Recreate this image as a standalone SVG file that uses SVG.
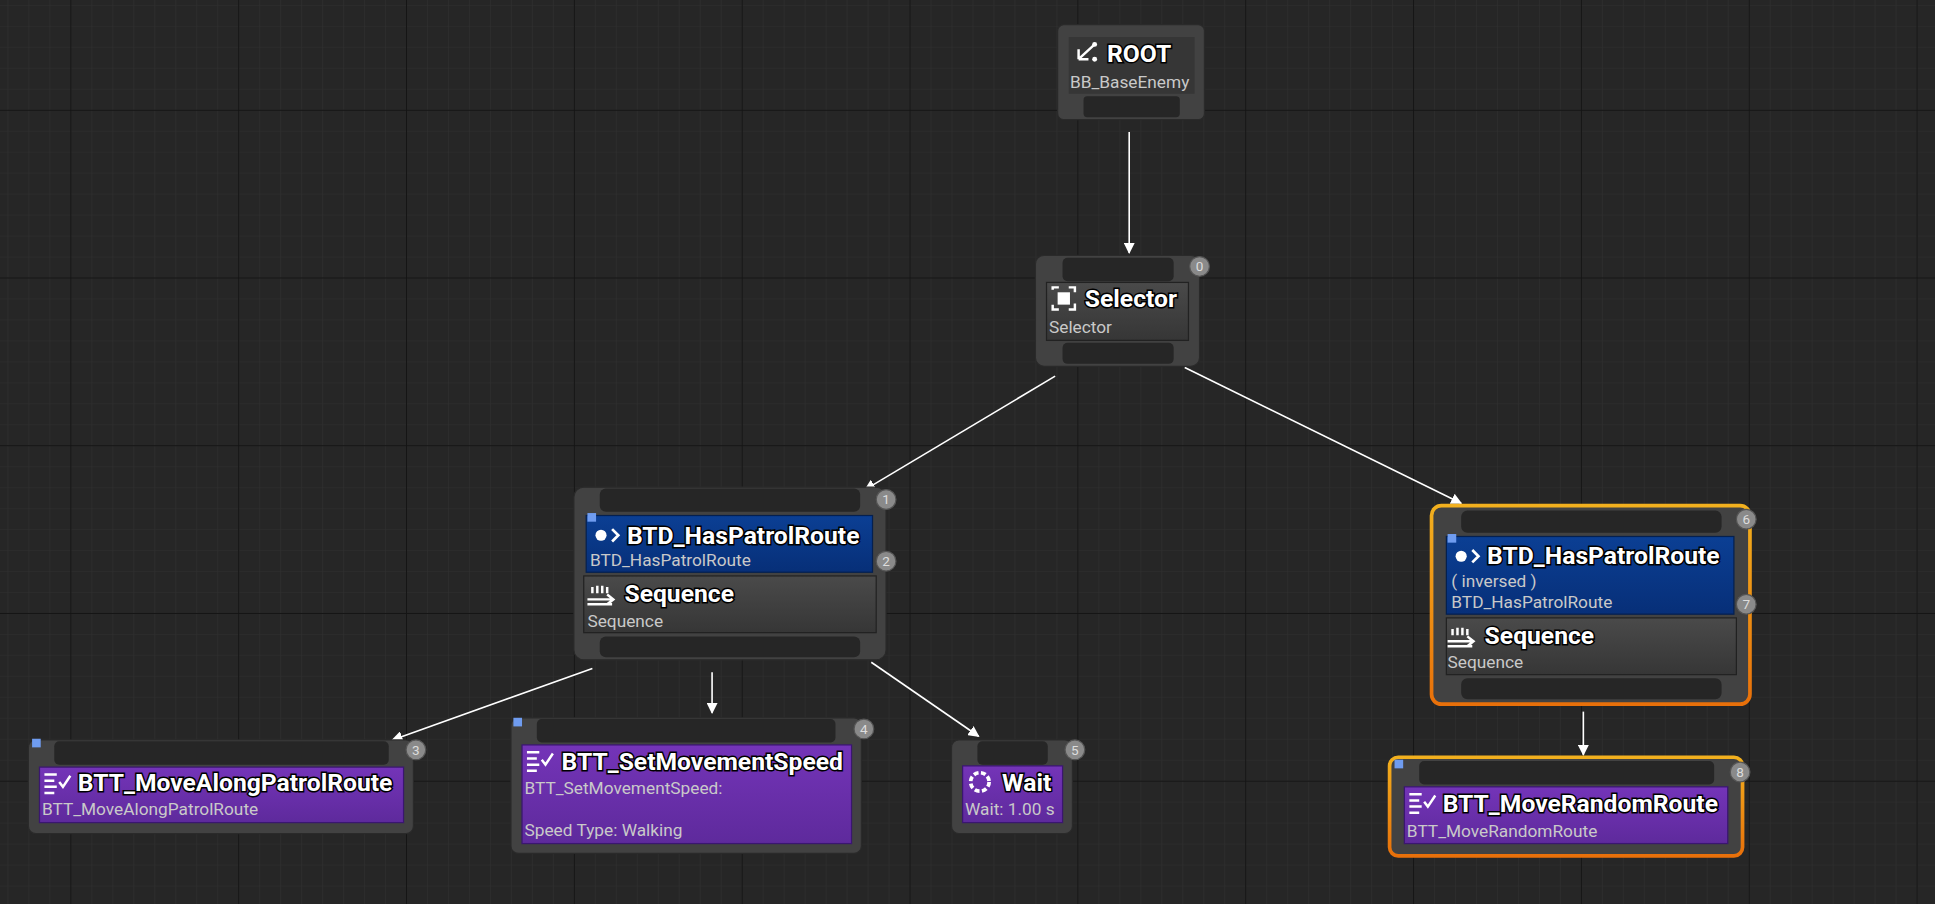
<svg xmlns="http://www.w3.org/2000/svg" width="1935" height="904" viewBox="0 0 1935 904">
<defs>
<pattern id="minor" x="-79" y="-47" width="17" height="17" patternUnits="userSpaceOnUse"><path d="M0 0H17M0 0V17" stroke="#2f2f2f" stroke-width="1" fill="none"/></pattern>
<pattern id="major" x="-79" y="-47" width="136" height="136" patternUnits="userSpaceOnUse"><path d="M0 0H136M0 0V136" stroke="#141414" stroke-width="1.6" fill="none"/></pattern>
<marker id="ah" viewBox="0 0 10 10" refX="9" refY="5" markerWidth="9" markerHeight="9" markerUnits="userSpaceOnUse" orient="auto"><path d="M0 0L10 5L0 10z" fill="#fff"/></marker>
<linearGradient id="og" x1="0" y1="0" x2="0" y2="1"><stop offset="0" stop-color="#f2b01e"/><stop offset="1" stop-color="#e8700a"/></linearGradient>
<linearGradient id="pg" x1="0" y1="0" x2="0" y2="1"><stop offset="0" stop-color="#7434b8"/><stop offset="1" stop-color="#5e2a9c"/></linearGradient>
<linearGradient id="bg" x1="0" y1="0" x2="0" y2="1"><stop offset="0" stop-color="#0b3f94"/><stop offset="1" stop-color="#072f78"/></linearGradient>
<linearGradient id="gg" x1="0" y1="0" x2="0" y2="1"><stop offset="0" stop-color="#4a4a4a"/><stop offset="1" stop-color="#363636"/></linearGradient>
</defs>
<style>
.outer{fill:#424242;stroke:#2a2a2a;stroke-width:1}
.bar{fill:#262626}
.gray{fill:url(#gg);stroke:#222;stroke-width:1}
.blue{fill:url(#bg);stroke:#05204f;stroke-width:1}
.purple{fill:url(#pg);stroke:#3a1670;stroke-width:1}
.t{font-family:Roboto,"Liberation Sans",sans-serif;font-weight:bold;font-size:20px;fill:#fff;paint-order:stroke;stroke:#000;stroke-width:2.4px}
.s{font-family:Roboto,"Liberation Sans",sans-serif;font-size:14px;fill:#c9c9c9}
.badge circle{fill:#8a8a8a;stroke:#555;stroke-width:1}
.badge text{font-family:Roboto,"Liberation Sans",sans-serif;font-size:11px;fill:#ddd;text-anchor:middle}
.conn{stroke:#fff;stroke-width:1.3;fill:none;marker-end:url(#ah)}
.sq{fill:#6f9cf0}
.ic{fill:#fff}
</style>
<rect width="1935" height="904" fill="#262626"/>
<g transform="scale(1.2341,1.2333)">
<rect width="1568" height="733" fill="url(#minor)"/>
<rect width="1568" height="733" fill="url(#major)"/>

<g id="connectors">
<path class="conn" d="M915 107V205"/>
<path class="conn" d="M855 305L701 397"/>
<path class="conn" d="M960 298L1184 408"/>
<path class="conn" d="M480 542L318 600"/>
<path class="conn" d="M577 545V578"/>
<path class="conn" d="M706 537L793 597"/>
<path class="conn" d="M1283 577V612"/>
</g>

<g id="root">
<rect class="outer" x="857" y="20" width="119" height="77" rx="5"/>
<rect x="866" y="30" width="102" height="46" fill="#363636"/>
<rect class="bar" x="878" y="78" width="78" height="17" rx="3"/>
<path d="M874 48L887 36M874 48V40M874 48H882" stroke="#fff" stroke-width="2" fill="none"/><circle class="ic" cx="887" cy="36" r="2"/><circle class="ic" cx="887" cy="48" r="2"/>
<text class="t" x="897" y="50">ROOT</text>
<text class="s" x="867" y="71">BB_BaseEnemy</text>
</g>

<g id="selector">
<rect class="outer" x="839" y="207" width="133" height="90" rx="7"/>
<rect class="bar" x="861" y="209" width="90" height="19" rx="4"/>
<rect class="gray" x="848" y="229" width="115" height="47"/>
<rect class="bar" x="861" y="278" width="90" height="17" rx="4"/>
<path d="M853 235V233H858M866 233H871V237M871 246V251H866M858 251H853V247" stroke="#fff" stroke-width="2" fill="none"/><rect class="ic" x="857" y="237" width="10" height="10"/>
<text class="t" x="879" y="249">Selector</text>
<text class="s" x="850" y="270">Selector</text>
<g class="badge"><circle cx="972" cy="216" r="8"/><text x="972" y="220">0</text></g>
</g>

<g id="seq-left">
<rect class="outer" x="465" y="395" width="253" height="140" rx="8"/>
<rect class="bar" x="486" y="396" width="211" height="19" rx="5"/>
<rect class="blue" x="475" y="418" width="232" height="46"/>
<rect class="sq" x="476" y="416" width="7" height="7"/>
<circle class="ic" cx="487" cy="434" r="4.5"/><path d="M496 429L501 434L496 439" stroke="#fff" stroke-width="2.2" fill="none"/>
<text class="t" x="508" y="441">BTD_HasPatrolRoute</text>
<text class="s" x="478" y="459">BTD_HasPatrolRoute</text>
<rect class="gray" x="473" y="467" width="237" height="46"/>
<path d="M480 476V481M484 475V481M488 475V481M492 476V481M476 486H496M492 482L497 486L492 490M476 490H496" stroke="#fff" stroke-width="2" fill="none"/>
<text class="t" x="506" y="488">Sequence</text>
<text class="s" x="476" y="508">Sequence</text>
<rect class="bar" x="486" y="516" width="211" height="17" rx="5"/>
<g class="badge"><circle cx="718" cy="405" r="8"/><text x="718" y="409">1</text></g>
<g class="badge"><circle cx="718" cy="455" r="8"/><text x="718" y="459">2</text></g>
</g>

<g id="move-along">
<rect class="outer" x="23" y="600" width="312" height="76" rx="6"/>
<rect class="bar" x="44" y="601" width="271" height="19" rx="4"/>
<rect class="purple" x="32" y="622" width="295" height="45"/>
<rect class="sq" x="26" y="599" width="7" height="7"/>
<path d="M36 628H46M36 633H44M36 638H46M36 643H44M48 634L51 638L57 629" stroke="#fff" stroke-width="2" fill="none"/>
<text class="t" x="63" y="641">BTT_MoveAlongPatrolRoute</text>
<text class="s" x="34" y="661">BTT_MoveAlongPatrolRoute</text>
<g class="badge"><circle cx="337" cy="608" r="8"/><text x="337" y="612">3</text></g>
</g>

<g id="set-speed">
<rect class="outer" x="414" y="582" width="284" height="110" rx="6"/>
<rect class="bar" x="435" y="583" width="242" height="19" rx="4"/>
<rect class="purple" x="423" y="604" width="267" height="80"/>
<rect class="sq" x="416" y="582" width="7" height="7"/>
<path d="M427 610H437M427 615H435M427 620H437M427 625H435M439 616L442 620L448 611" stroke="#fff" stroke-width="2" fill="none"/>
<text class="t" x="455" y="624">BTT_SetMovementSpeed</text>
<text class="s" x="425" y="644">BTT_SetMovementSpeed:</text>
<text class="s" x="425" y="678">Speed Type: Walking</text>
<g class="badge"><circle cx="700" cy="591" r="8"/><text x="700" y="595">4</text></g>
</g>

<g id="wait">
<rect class="outer" x="771" y="600" width="98" height="76" rx="6"/>
<rect class="bar" x="792" y="601" width="57" height="19" rx="4"/>
<rect class="purple" x="780" y="621" width="81" height="46"/>
<circle cx="794" cy="634" r="7.5" stroke="#fff" stroke-width="3" stroke-dasharray="4 2" fill="none"/>
<text class="t" x="812" y="641">Wait</text>
<text class="s" x="782" y="661">Wait: 1.00 s</text>
<g class="badge"><circle cx="871" cy="608" r="8"/><text x="871" y="612">5</text></g>
</g>

<g id="seq-right">
<rect x="1160" y="410" width="258" height="161" rx="8" fill="#424242" stroke="url(#og)" stroke-width="3"/>
<rect class="bar" x="1184" y="414" width="211" height="18" rx="5"/>
<rect class="blue" x="1172" y="435" width="233" height="63"/>
<rect class="sq" x="1173" y="433" width="7" height="7"/>
<circle class="ic" cx="1184" cy="451" r="4.5"/><path d="M1193 446L1198 451L1193 456" stroke="#fff" stroke-width="2.2" fill="none"/>
<text class="t" x="1205" y="457">BTD_HasPatrolRoute</text>
<text class="s" x="1176" y="476">( inversed )</text>
<text class="s" x="1176" y="493">BTD_HasPatrolRoute</text>
<rect class="gray" x="1172" y="501" width="235" height="46"/>
<path d="M1177 510V515M1181 509V515M1185 509V515M1189 510V515M1173 520H1193M1189 516L1194 520L1189 524M1173 524H1193" stroke="#fff" stroke-width="2" fill="none"/>
<text class="t" x="1203" y="522">Sequence</text>
<text class="s" x="1173" y="542">Sequence</text>
<rect class="bar" x="1184" y="550" width="211" height="17" rx="5"/>
<g class="badge"><circle cx="1415" cy="421" r="8"/><text x="1415" y="425">6</text></g>
<g class="badge"><circle cx="1415" cy="490" r="8"/><text x="1415" y="494">7</text></g>
</g>

<g id="move-random">
<rect x="1126" y="614" width="286" height="80" rx="7" fill="#424242" stroke="url(#og)" stroke-width="3"/>
<rect class="bar" x="1150" y="617" width="239" height="19" rx="4"/>
<rect class="purple" x="1138" y="638" width="262" height="46"/>
<rect class="sq" x="1130" y="616" width="7" height="7"/>
<path d="M1142 644H1152M1142 649H1150M1142 654H1152M1142 659H1150M1154 650L1157 654L1163 645" stroke="#fff" stroke-width="2" fill="none"/>
<text class="t" x="1169" y="658">BTT_MoveRandomRoute</text>
<text class="s" x="1140" y="679">BTT_MoveRandomRoute</text>
<g class="badge"><circle cx="1410" cy="626" r="8"/><text x="1410" y="630">8</text></g>
</g>
</g>
</svg>
